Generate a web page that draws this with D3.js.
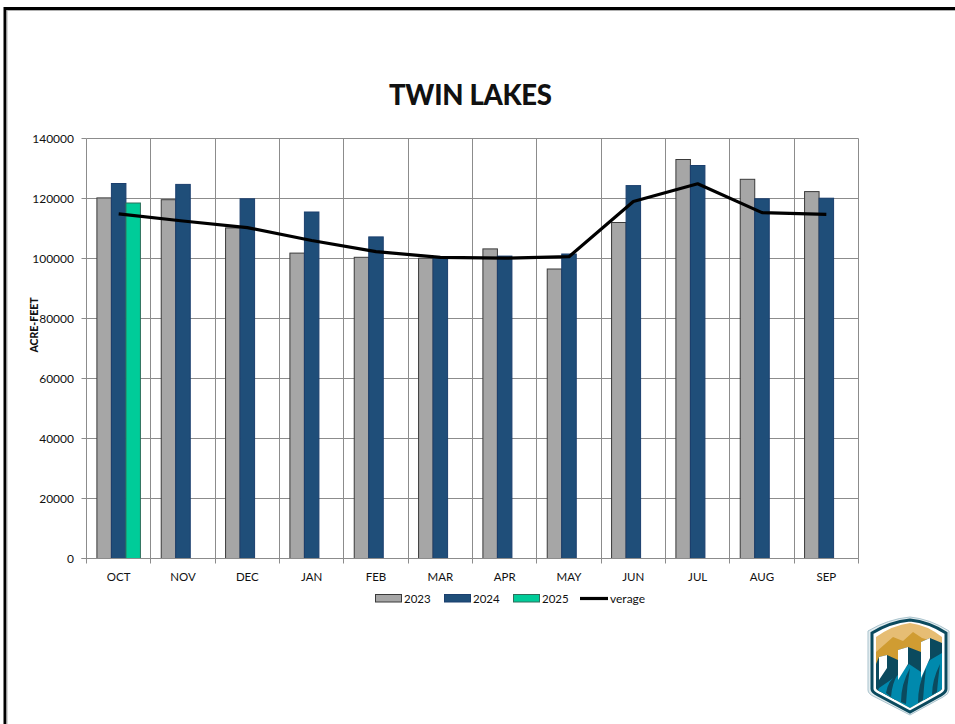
<!DOCTYPE html>
<html><head><meta charset="utf-8">
<script src="https://cdn.jsdelivr.net/npm/d3@7"></script>
<style>html,body{margin:0;padding:0;background:#fff}svg{display:block}text{font-family:Lato,"Liberation Sans",sans-serif;fill:#111}</style>
</head><body><svg id="c" width="955" height="724"></svg>
<script>
const months=["OCT","NOV","DEC","JAN","FEB","MAR","APR","MAY","JUN","JUL","AUG","SEP"];
const years=["2023","2024","2025"];
const v2023=[120200,119600,110200,101800,100400,100100,103200,96500,112000,133000,126400,122300];
const v2024=[125000,124700,119900,115500,107200,100500,100800,101500,124300,131000,119900,120100];
const v2025=[118500,null,null,null,null,null,null,null,null,null,null,null];
const average=[114900,112500,110300,106000,102300,100400,100100,100600,119000,124900,115300,114700];
const yTicks=[0,20000,40000,60000,80000,100000,120000,140000];
const colors={"2023":"#a6a6a6","2024":"#1f4e79","2025":"#00cc99"};
const strokes={"2023":"#3a3a3a","2024":"#1b3f6e","2025":"#2f6f5c"};
const seriesByYear={"2023":v2023,"2024":v2024,"2025":v2025};

const svg=d3.select("#c");
const L=86.5,R=858.5,T=138.5,B=558.5;
const x=d3.scaleBand().domain(months).range([L,R]);
const xi=d3.scaleBand().domain(years).range([10.4,x.bandwidth()-10.4]);
const y=d3.scaleLinear().domain([0,140000]).range([B,T]);

// slide frame: top and left only
svg.append("path").attr("d","M5 724V8.5H955").attr("fill","none").attr("stroke","#000").attr("stroke-width",3);
svg.append("path").attr("d","M7 724V10.5H955").attr("fill","none").attr("stroke","#b0b0b0").attr("stroke-width",1);

svg.append("text").attr("x",470.5).attr("y",105).attr("text-anchor","middle")
  .style("font-size","27.5px").style("font-weight",900).attr("textLength",163).text("TWIN LAKES");

// grid
const g=svg.append("g");
g.selectAll("line.h").data(yTicks).join("line").attr("class","h")
  .attr("x1",L).attr("x2",R).attr("y1",d=>y(d)).attr("y2",d=>y(d)).attr("stroke","#8c8c8c");
const xEdges=months.map(m=>x(m)).concat([R]);
const snap=d=>Math.floor(d)+.5;
g.selectAll("line.v").data(xEdges).join("line").attr("class","v")
  .attr("x1",snap).attr("x2",snap).attr("y1",T).attr("y2",B).attr("stroke","#8c8c8c");

// bars
years.forEach(yr=>{
  svg.append("g").selectAll("rect").data(months.map((m,i)=>({m,v:seriesByYear[yr][i]})).filter(d=>d.v!=null)).join("rect")
   .attr("x",d=>x(d.m)+xi(yr)).attr("width",xi.bandwidth())
   .attr("y",d=>y(d.v)).attr("height",d=>B-y(d.v))
   .attr("fill",colors[yr]).attr("stroke",strokes[yr]).attr("stroke-width",1);
});

// average line
const line=d3.line().x((d,i)=>x(months[i])+x.bandwidth()/2).y(d=>y(d));
svg.append("path").datum(average).attr("d",line).attr("fill","none").attr("stroke","#000").attr("stroke-width",3.2).attr("stroke-linejoin","round");

// axes
const ax=svg.append("g").attr("transform",`translate(0,${B})`);
ax.append("line").attr("x1",L-5).attr("x2",R).attr("stroke","#8c8c8c");
ax.selectAll("line.t").data(xEdges).join("line").attr("class","t").attr("x1",snap).attr("x2",snap).attr("y1",0).attr("y2",5).attr("stroke","#8c8c8c");
ax.selectAll("text").data(months).join("text").attr("x",d=>x(d)+x.bandwidth()/2).attr("y",22).attr("text-anchor","middle").style("font-size","11.5px").text(d=>d);
const ay=svg.append("g");
ay.selectAll("line").data(yTicks).join("line").attr("x1",L-5).attr("x2",L).attr("y1",d=>y(d)).attr("y2",d=>y(d)).attr("stroke","#8c8c8c");
ay.selectAll("text").data(yTicks).join("text").attr("x",74).attr("y",d=>y(d)+4.5).attr("text-anchor","end").style("font-size","12px").text(d=>d);
svg.append("text").attr("transform","translate(38,325) rotate(-90)").attr("text-anchor","middle").style("font-size","10.5px").style("font-weight",900).text("ACRE-FEET");

// legend
const lg=svg.append("g");
const lgX={"2023":375.5,"2024":444.5,"2025":513.5};
years.forEach(yr=>{
  lg.append("rect").attr("x",lgX[yr]).attr("y",594.5).attr("width",26).attr("height",7.5).attr("fill",colors[yr]).attr("stroke",strokes[yr]);
  lg.append("text").attr("x",lgX[yr]+28.5).attr("y",603).style("font-size","11.5px").text(yr);
});
lg.append("line").attr("x1",580).attr("x2",608).attr("y1",598.5).attr("y2",598.5).attr("stroke","#000").attr("stroke-width",3.2);
lg.append("text").attr("x",610).attr("y",603).style("font-size","12px").text("verage");

// logo
const logo=svg.append("g");
const defs=svg.append("defs");
const inner="M910 623 Q927 625 942 637 V688 Q942 690 938 692 L910 708 L881 692 Q876 690 876 688 V637 Q893 625 910 623Z";
defs.append("clipPath").attr("id","sh").append("path").attr("d",inner);
logo.append("path").attr("d","M910 617 Q930 619 949 631 V690 Q949 694 943 697 L910 715 L875 697 Q868 694 868 690 V631 Q888 619 910 617Z").attr("fill","#e4edf0").attr("stroke","#a9c3cd").attr("stroke-width",1);
logo.append("path").attr("d","M910 620 Q929 622 946 633 V689 Q946 692 941 695 L910 712 L878 695 Q872 692 872 689 V633 Q890 622 910 620Z").attr("fill","#fff").attr("stroke","#0b4a5e").attr("stroke-width",3);
const c=logo.append("g").attr("clip-path","url(#sh)");
c.append("rect").attr("x",870).attr("y",620).attr("width",80).attr("height",95).attr("fill","#e6bd74");
c.append("path").attr("d","M876 652 L893 637 L903 641 L913 632 L922 638 L942 644 V670 H876Z").attr("fill","#d09c32");
c.append("path").attr("d","M876 664 L879 657 L887 655 L898 660 L898 650 L908 647 L921 652 L921 642 L930 638 L942 643 V700 H876Z").attr("fill","#0b4a5e");
c.append("path").attr("d","M876 695 L879 688 L898 675 L909 664 L921 672 L930 660 L942 653 V710 H876Z").attr("fill","#0089ad");
c.append("path").attr("d","M886 693 Q888 680 898 674 Q892 683 891 697Z M901 702 Q901 684 910 668 Q907 685 906 704Z M918 703 Q918 684 926 668 Q924 685 923 700Z M932 695 Q932 680 940 664 Q938 680 937 692Z").attr("fill","#0b4a5e");
c.append("path").attr("d","M879 657 L887 655 V668 L879 680Z M898 650 L908 647 V664 L898 680Z M921 642 L930 638 V658 L921 678Z").attr("fill","#fff");
</script></body></html>
